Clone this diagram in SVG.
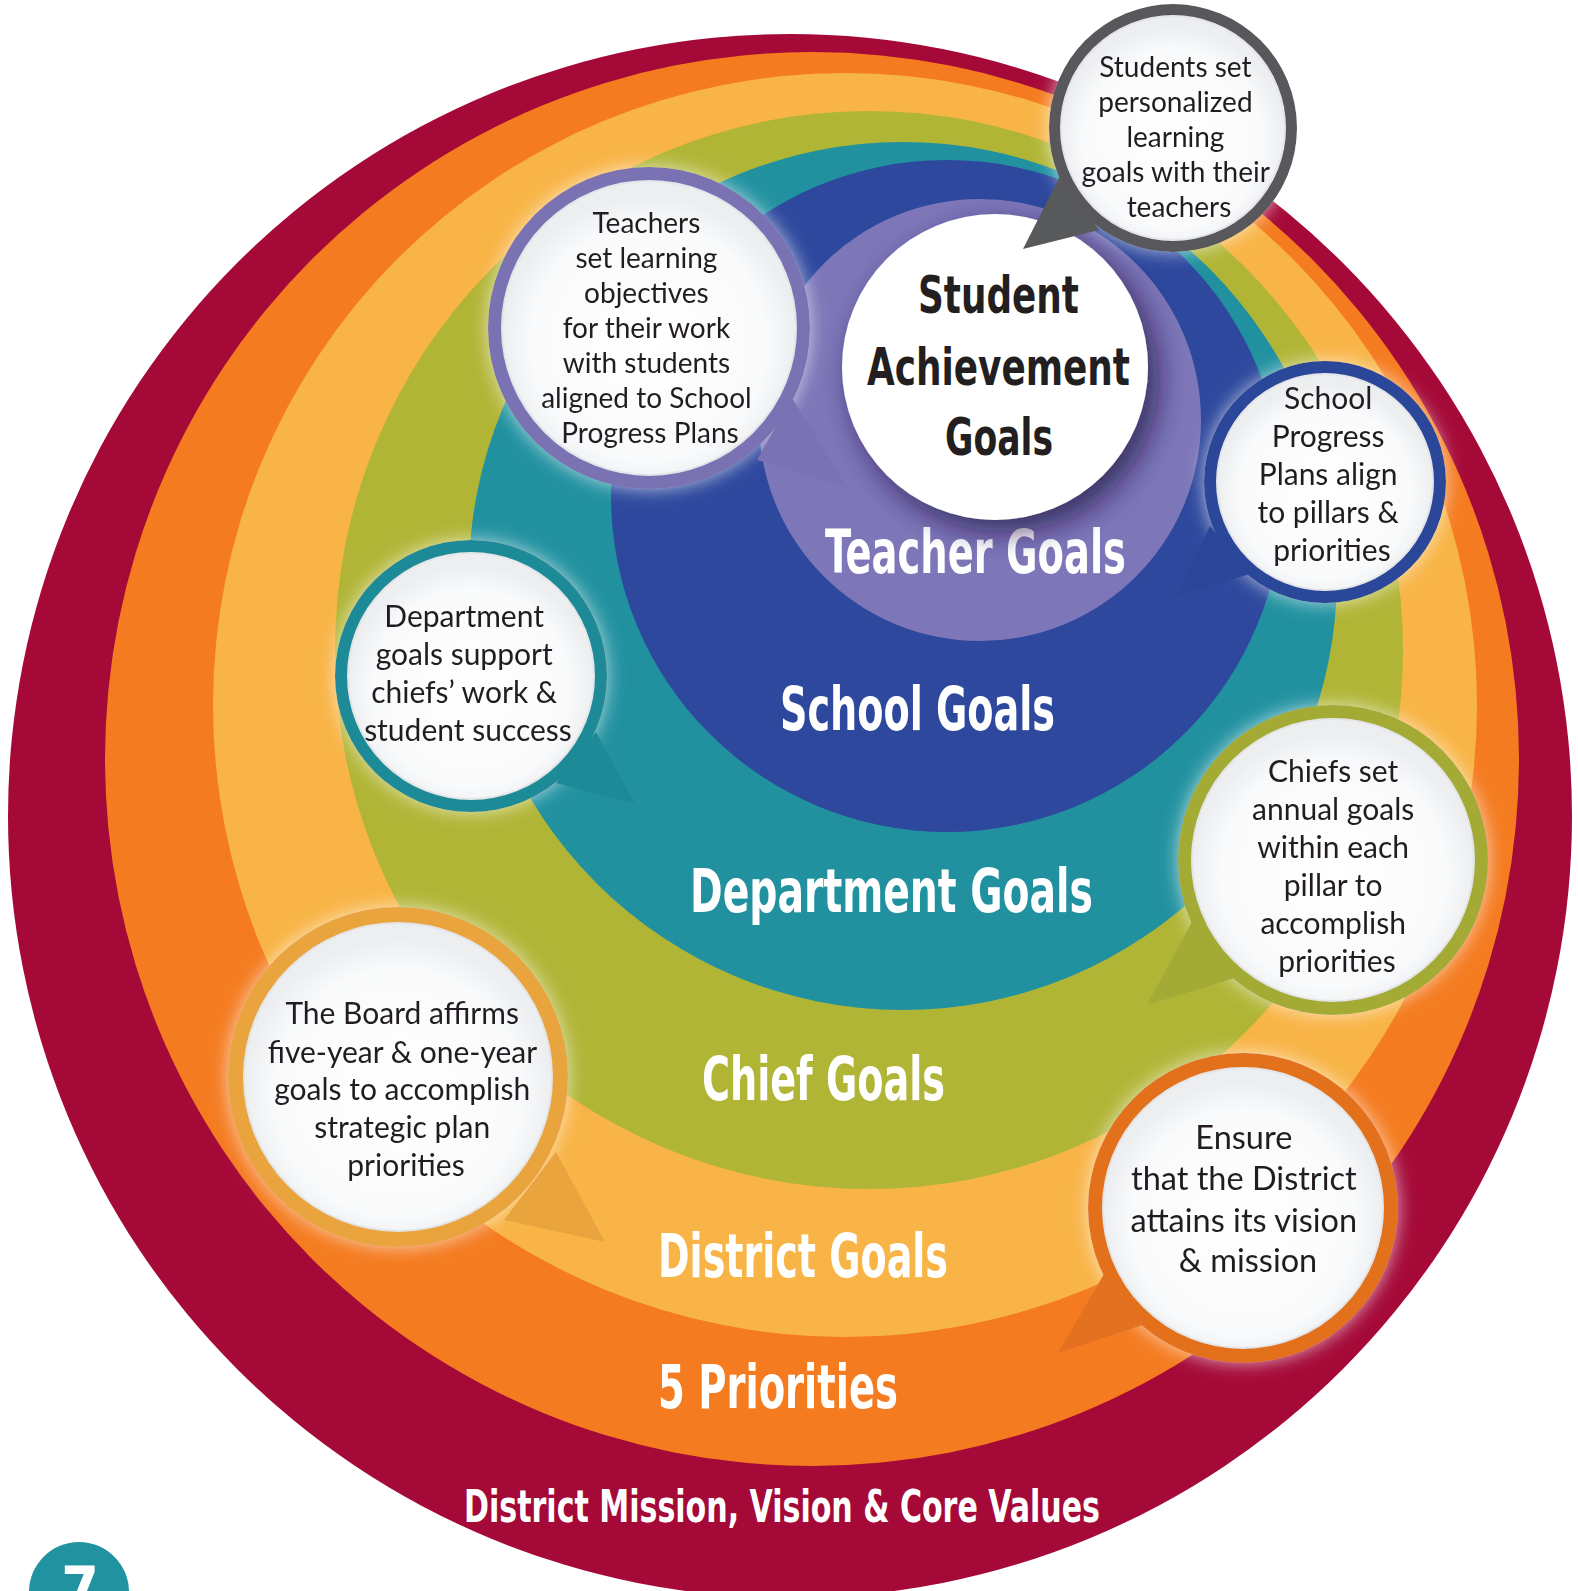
<svg xmlns="http://www.w3.org/2000/svg" width="1578" height="1591" viewBox="0 0 1578 1591">
<defs>
<style>
.lbl{font-family:"DejaVu Sans","Liberation Sans",sans-serif;font-weight:bold;font-stretch:condensed;fill:#fff;font-size:60px}
.ctr{font-family:"DejaVu Sans","Liberation Sans",sans-serif;font-weight:bold;font-stretch:condensed;fill:#231F20;font-size:51px}
.bt{font-family:Lato,"Open Sans","Liberation Sans",sans-serif;fill:#231F20;text-anchor:middle}
.inner{fill:url(#bw);stroke:#E3E5E8;stroke-width:2}
</style>
<radialGradient id="bw" cx="0.5" cy="0.55" r="0.5">
<stop offset="0" stop-color="#FFFFFF"/>
<stop offset="0.8" stop-color="#F9FAFB"/>
<stop offset="1" stop-color="#ECEEF0"/>
</radialGradient>
<filter id="glow" x="-30%" y="-30%" width="160%" height="160%">
<feDropShadow dx="0" dy="0" stdDeviation="9" flood-color="#FFFFFF" flood-opacity="0.65"/>
</filter>
<filter id="shadow" x="-30%" y="-30%" width="160%" height="160%">
<feDropShadow dx="10" dy="12" stdDeviation="14" flood-color="#1C1840" flood-opacity="0.7"/>
</filter>
</defs>

<g id="ring-mission">
<circle cx="790" cy="816" r="782" fill="#A50938"/>
<text class="lbl" x="464" y="1522" style="font-size:44px" textLength="636" lengthAdjust="spacingAndGlyphs">District Mission, Vision &amp; Core Values</text>
</g>
<g id="ring-priorities">
<circle cx="812" cy="759" r="707" fill="#F47B20"/>
</g>
<g id="ring-district">
<circle cx="845" cy="705" r="632" fill="#F8B446"/>
</g>
<g id="ring-chief">
<ellipse cx="869" cy="650" rx="534" ry="539" fill="#B1B536"/>
</g>
<g id="ring-department">
<circle cx="903" cy="576" r="434" fill="#2191A0"/>
</g>
<g id="ring-school">
<circle cx="947" cy="496" r="336" fill="#2D489D"/>
</g>
<g id="ring-teacher">
<circle cx="980" cy="420" r="221" fill="#7D76B8"/>
</g>

<g id="labels">
<text class="lbl" x="825" y="573" textLength="301" lengthAdjust="spacingAndGlyphs">Teacher Goals</text>
<text class="lbl" x="780" y="730" textLength="275" lengthAdjust="spacingAndGlyphs">School Goals</text>
<text class="lbl" x="690" y="912" textLength="403" lengthAdjust="spacingAndGlyphs">Department Goals</text>
<text class="lbl" x="702" y="1100" textLength="243" lengthAdjust="spacingAndGlyphs">Chief Goals</text>
<text class="lbl" x="658" y="1277" textLength="290" lengthAdjust="spacingAndGlyphs">District Goals</text>
<text class="lbl" x="658" y="1408" textLength="240" lengthAdjust="spacingAndGlyphs">5 Priorities</text>
</g>

<g id="student-achievement">
<circle cx="995" cy="367" r="153" fill="#FFFFFF" filter="url(#shadow)"/>
<text class="ctr" x="918" y="313" textLength="161" lengthAdjust="spacingAndGlyphs">Student</text>
<text class="ctr" x="867" y="385" textLength="263" lengthAdjust="spacingAndGlyphs">Achievement</text>
<text class="ctr" x="945" y="455" textLength="108" lengthAdjust="spacingAndGlyphs">Goals</text>
</g>

<g id="bubble-students" filter="url(#glow)">
<circle cx="1173" cy="128" r="124" fill="#58595B"/>
<circle class="inner" cx="1173" cy="128" r="112"/>
<text class="bt" style="font-size:28px">
<tspan x="1179" y="77">Students set</tspan>
<tspan x="1179" y="112">personalized</tspan>
<tspan x="1179" y="147">learning</tspan>
<tspan x="1179" y="182">goals with their</tspan>
<tspan x="1179" y="217">teachers</tspan>
</text>
</g>

<g id="bubble-teachers" filter="url(#glow)">
<circle cx="649" cy="328" r="161" fill="#7A72B3"/>
<circle class="inner" cx="649" cy="328" r="147"/>
<text class="bt" style="font-size:28px">
<tspan x="650" y="233">Teachers</tspan>
<tspan x="650" y="268">set learning</tspan>
<tspan x="650" y="303">objectives</tspan>
<tspan x="650" y="338">for their work</tspan>
<tspan x="650" y="373">with students</tspan>
<tspan x="650" y="408">aligned to School</tspan>
<tspan x="650" y="443">Progress Plans</tspan>
</text>
</g>

<g id="bubble-school" filter="url(#glow)">
<circle cx="1325" cy="482" r="121" fill="#2B4699"/>
<circle class="inner" cx="1325" cy="482" r="108"/>
<text class="bt" style="font-size:30px">
<tspan x="1332" y="409">School</tspan>
<tspan x="1332" y="447">Progress</tspan>
<tspan x="1332" y="485">Plans align</tspan>
<tspan x="1332" y="523">to pillars &amp;</tspan>
<tspan x="1332" y="561">priorities</tspan>
</text>
</g>

<g id="bubble-department" filter="url(#glow)">
<circle cx="471" cy="676" r="136" fill="#1F8A97"/>
<circle class="inner" cx="471" cy="676" r="123"/>
<text class="bt" style="font-size:30px">
<tspan x="468" y="627">Department</tspan>
<tspan x="468" y="665">goals support</tspan>
<tspan x="468" y="703">chiefs’ work &amp;</tspan>
<tspan x="468" y="741">student success</tspan>
</text>
</g>

<g id="bubble-chiefs" filter="url(#glow)">
<circle cx="1333" cy="860" r="155" fill="#A3AB36"/>
<circle class="inner" cx="1333" cy="860" r="141"/>
<text class="bt" style="font-size:30px">
<tspan x="1337" y="782">Chiefs set</tspan>
<tspan x="1337" y="820">annual goals</tspan>
<tspan x="1337" y="858">within each</tspan>
<tspan x="1337" y="896">pillar to</tspan>
<tspan x="1337" y="934">accomplish</tspan>
<tspan x="1337" y="972">priorities</tspan>
</text>
</g>

<g id="bubble-board" filter="url(#glow)">
<circle cx="398" cy="1077" r="170" fill="#E9A43E"/>
<circle class="inner" cx="398" cy="1077" r="154"/>
<text class="bt" style="font-size:30px">
<tspan x="406" y="1024">The Board affirms</tspan>
<tspan x="406" y="1063">five-year &amp; one-year</tspan>
<tspan x="406" y="1100">goals to accomplish</tspan>
<tspan x="406" y="1138">strategic plan</tspan>
<tspan x="406" y="1176">priorities</tspan>
</text>
</g>

<g id="bubble-ensure" filter="url(#glow)">
<circle cx="1243" cy="1208" r="155" fill="#E3711F"/>
<circle class="inner" cx="1243" cy="1208" r="140"/>
<text class="bt" style="font-size:32.5px">
<tspan x="1248" y="1149">Ensure</tspan>
<tspan x="1248" y="1190">that the District</tspan>
<tspan x="1248" y="1232">attains its vision</tspan>
<tspan x="1248" y="1272">&amp; mission</tspan>
</text>
</g>

<g id="connectors">
<polygon points="1060,176 1023,249 1099,230" fill="#58595B"/>
<polygon points="792,398 847,487 757,460" fill="#7A72B3"/>
<polygon points="1210,526 1178,595 1250,574" fill="#2B4699"/>
<polygon points="596,732 635,804 556,783" fill="#1F8A97"/>
<polygon points="1194,918 1147,1005 1238,977" fill="#A3AB36"/>
<polygon points="556,1152 605,1242 504,1220" fill="#E9A43E"/>
<polygon points="1104,1274 1058,1353 1148,1323" fill="#E3711F"/>
</g>

<g id="page-badge">
<circle cx="79" cy="1592" r="50" fill="#2193A0"/>
<text class="lbl" x="80" y="1610" text-anchor="middle">7</text>
</g>
</svg>
